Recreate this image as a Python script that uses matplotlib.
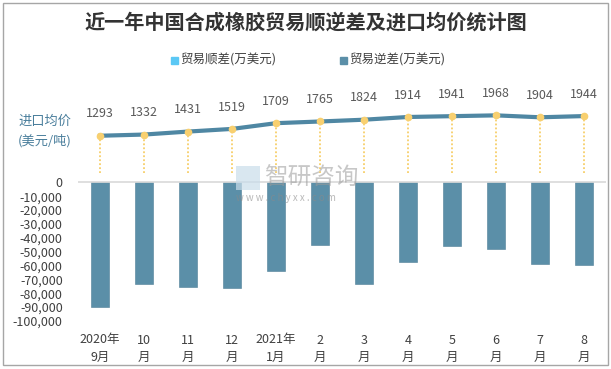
import matplotlib
matplotlib.use("Agg")
import matplotlib.pyplot as plt
from matplotlib.patches import Rectangle

plt.rcParams['font.family'] = ['Noto Sans CJK SC', 'DejaVu Sans']

# data
months = ["2020年\n9月", "10\n月", "11\n月", "12\n月", "2021年\n1月", "2\n月",
          "3\n月", "4\n月", "5\n月", "6\n月", "7\n月", "8\n月"]
deficit = [-89900, -73500, -75600, -76300, -64000, -45200,
           -73500, -57500, -45900, -48100, -59000, -59700]
surplus = [0] * 12
price = [1293, 1332, 1431, 1519, 1709, 1765, 1824, 1914, 1941, 1968, 1904, 1944]
yticks = list(range(0, -100001, -10000))

W, H = 611, 369
fig = plt.figure(figsize=(W / 100, H / 100), dpi=100)

def fx(x):
    return x / W

def fy(y):
    return 1 - y / H

ax = fig.add_axes([fx(78), fy(321), fx(606) - fx(78), fy(95) - fy(321)])
x = list(range(len(months)))

bar_col = "#5B8FA8"
ax.bar(x, surplus, width=0.41, color="#5BC8F5")
ax.bar(x, deficit, width=0.41, color=bar_col, edgecolor="#4F7F96", linewidth=0.4)
ax.axhline(0, color="#D9D9D9", lw=1.2, zorder=1)
ax.set_xlim(-0.5, 11.5)
ax.set_ylim(-100000, 62941)
ax.set_yticks(yticks)
ax.set_yticklabels(["0" if v == 0 else "{:,}".format(v) for v in yticks],
                   fontsize=9, color="#404040")
ax.set_xticks(x)
ax.set_xticklabels(months, fontsize=9, color="#404040", linespacing=1.45)
ax.tick_params(length=0, axis="y", pad=11)
ax.tick_params(length=0, axis="x", pad=9)
for s in ax.spines.values():
    s.set_visible(False)

ax2 = ax.twinx()
ax2.set_ylim(-4841, 2642)
ax2.vlines(x, 60, price, colors="#F7CF6A", linestyles=(0, (1, 1.2)), lw=1.3, zorder=2)
ax2.plot(x, price, color="#4F87A3", lw=3, zorder=3)
ax2.plot(x, price, "o", color="#F8D070", ms=4.5, zorder=4)
for xi, p in zip(x, price):
    ax2.annotate(str(p), (xi, p), xytext=(0, 11), textcoords="offset points",
                 ha="center", va="bottom", fontsize=9, color="#595959")
ax2.set_yticks([])
for s in ax2.spines.values():
    s.set_visible(False)

# title, legend, axis label
fig.text(0.5, fy(22), "近一年中国合成橡胶贸易顺逆差及进口均价统计图", ha="center", va="center",
         fontsize=14.5, fontweight="bold", color="#333333")
fig.add_artist(Rectangle((fx(171), fy(64)), fx(7), fy(57) - fy(64), color="#5BC8F5",
                         transform=fig.transFigure))
fig.text(fx(180), fy(60), "贸易顺差(万美元)", va="center", fontsize=9, color="#404040")
fig.add_artist(Rectangle((fx(340), fy(64)), fx(7), fy(57) - fy(64), color=bar_col,
                         transform=fig.transFigure))
fig.text(fx(349), fy(60), "贸易逆差(万美元)", va="center", fontsize=9, color="#404040")
fig.text(fx(18), fy(131), "进口均价\n(美元/吨)", va="center", ha="left", fontsize=9.5,
         color="#4A7E9C", linespacing=1.6)

# watermark
fig.add_artist(Rectangle((fx(236), fy(190)), fx(24), fy(166) - fy(190), facecolor="#C9DDEB",
                         edgecolor="none", alpha=0.7, transform=fig.transFigure))
fig.text(fx(264), fy(178), "智研咨询", va="center", fontsize=17, color="#9A9A9A", alpha=0.55)
fig.text(fx(236), fy(198), "w w w . c h y x x . c o m", va="center", fontsize=7,
         color="#8A8A8A", alpha=0.6)

fig.add_artist(Rectangle((fx(2.5), fy(365)), fx(605), fy(3) - fy(365), fill=False,
                         edgecolor="#A6A6A6", lw=1, transform=fig.transFigure))

fig.savefig("out.png", dpi=100)
